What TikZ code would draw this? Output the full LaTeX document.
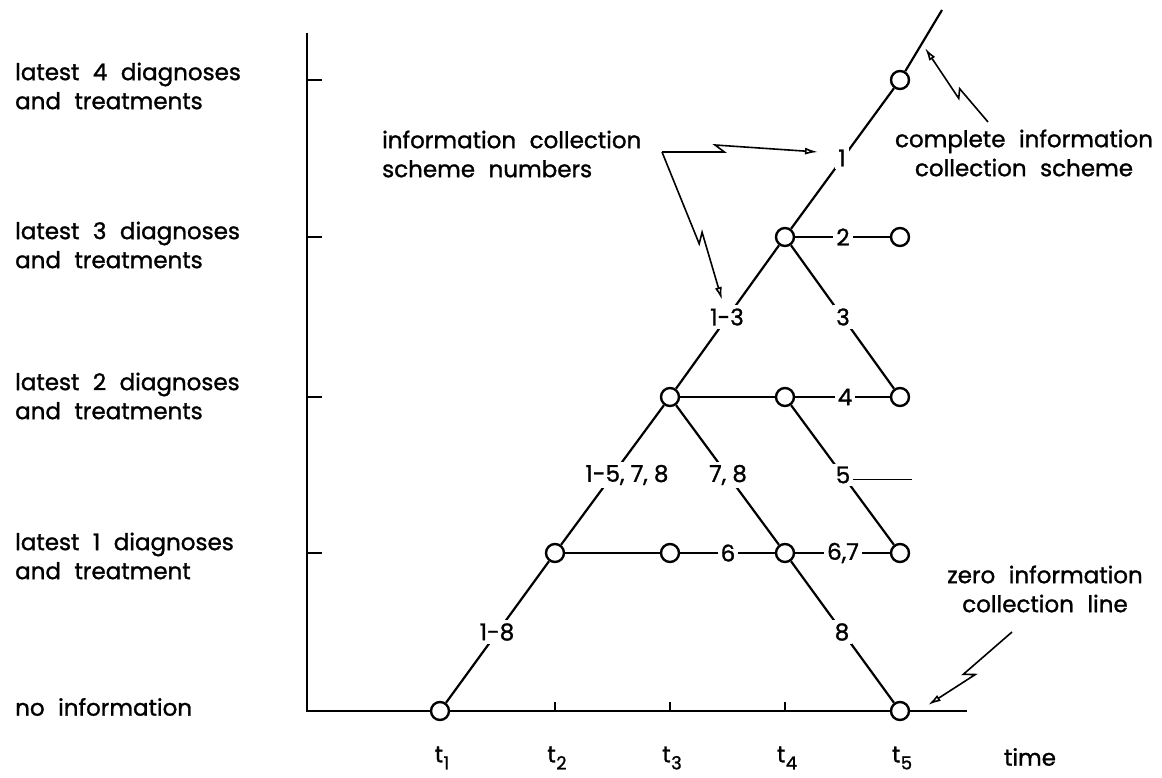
\documentclass[tikz,border=0pt]{standalone}
\usepackage{fontspec}
\setmainfont{Poppins}[WordSpace=2.2,FakeBold=1.2]
\newfontfamily\labfont{Poppins}[FakeBold=1.2]
\usetikzlibrary{arrows.meta,calc}
\newcommand\tlab[1]{t\kern0.5pt\raisebox{-7pt}{\fontsize{18}{18}\selectfont #1}}
\begin{document}
\begin{tikzpicture}[x=1pt,y=-1pt,
  dot/.style={circle,draw,line width=2.4pt,minimum size=18pt,inner sep=0pt,fill=white},
  conn/.style={line width=2.2pt},
  axis/.style={line width=2.6pt},
  lab/.style={fill=white,inner sep=3pt,font=\labfont\fontsize{23}{23}\selectfont},
  txt/.style={inner sep=0pt,font=\fontsize{23}{29}\selectfont,align=left},
  bolt/.style={line width=1.6pt,-{Latex[open,length=13pt,width=7pt]}}]
\useasboundingbox (0,0) rectangle (1162,778);

% circle nodes
\node[dot] (a0) at (440,711) {};
\node[dot] (e0) at (900,711) {};
\node[dot] (b1) at (555,553) {};
\node[dot] (c1) at (670,553) {};
\node[dot] (d1) at (785,553) {};
\node[dot] (e1) at (900,553) {};
\node[dot] (c2) at (670,397) {};
\node[dot] (d2) at (785,397) {};
\node[dot] (e2) at (900,397) {};
\node[dot] (d3) at (785,237) {};
\node[dot] (e3) at (900,237) {};
\node[dot] (e4) at (900,80) {};

% axes
\coordinate (O) at (307,711);
\coordinate (ytop) at (307,33);
\coordinate (xend) at (967,711);
\coordinate (topend) at (942,10);
\draw[axis] (ytop) -- (O) -- (a0);
\draw[axis] (a0) -- (e0);
\draw[axis] (e0) -- (xend);
\foreach \yy in {80,237,397,553} \draw[line width=2.2pt] (307,\yy) -- ++(15,0);
\foreach \xx in {555,670,785} \draw[line width=1.6pt] (\xx,711) -- ++(0,-9);

% connectors
\draw[conn] (a0) -- (b1);
\draw[conn] (b1) -- (c2);
\draw[conn] (c2) -- (d3);
\draw[conn] (d3) -- (e4);
\draw[conn] (e4) -- (topend);
\draw[conn] (b1) -- (c1);
\draw[conn] (c1) -- (d1);
\draw[conn] (d1) -- (e1);
\draw[conn] (c2) -- (d2);
\draw[conn] (d2) -- (e2);
\draw[conn] (d3) -- (e3);
\draw[conn] (c2) -- (d1);
\draw[conn] (d1) -- (e0);
\draw[conn] (d2) -- (e1);
\draw[conn] (d3) -- (e2);

% labels on connectors
\node[lab] (l18) at (497,632) {1-8};
\node[lab] (l1578) at (627,475) {1-5, 7, 8};
\node[lab] (l78) at (728,475) {7, 8};
\node[lab] (l5b) at (843,475) {5};
\node[lab] (l13) at (727,317) {1-3};
\node[lab] (l3) at (843,317) {3};
\node[lab] (l1) at (842,158) {1};
\node[lab] (l2) at (843,237) {2};
\node[lab] (l4) at (845,397) {4};
\node[lab] (l6) at (728,553) {6};
\node[lab] (l67) at (843,553) {6,7};
\node[lab] (l8) at (842,632) {8};
\coordinate (dashend) at (912,479);
\draw[line width=1pt] (l5b.east |- dashend) -- (dashend);

% left labels
\node[txt,anchor=west] (lv4) at (15,86) {latest 4 diagnoses\\and treatments};
\node[txt,anchor=west] (lv3) at (15,245) {latest 3 diagnoses\\and treatments};
\node[txt,anchor=west] (lv2) at (15,396) {latest 2 diagnoses\\and treatments};
\node[txt,anchor=west] (lv1) at (15,556) {latest 1 diagnoses\\and treatment};
\node[txt,anchor=west] (lv0) at (15,707) {no information};

% annotations
\node[txt,anchor=west] (icsn) at (382,154) {information collection\\scheme numbers};
\node[txt,align=center] (cics) at (1024,153) {complete information\\collection scheme};
\node[txt,align=center] (zicl) at (1045,589) {zero information\\collection line};

% time labels
\node[txt] (t1) at (442,758) {\tlab{1}};
\node[txt] (t2) at (557,758) {\tlab{2}};
\node[txt] (t3) at (672,758) {\tlab{3}};
\node[txt] (t4) at (787,758) {\tlab{4}};
\node[txt] (t5) at (902,758) {\tlab{5}};
\node[txt] (time) at (1030,757) {time};

% lightning arrows
\coordinate (src) at (662,152);
\coordinate (tip1) at (818,152);
\coordinate (tip2) at (722,300);
\coordinate (csrc) at (988,122);
\coordinate (ctip) at (925,48);
\coordinate (zsrc) at (1012,632);
\coordinate (ztip) at (928,705);
\draw[bolt] (src) -- ($(src)!0.40!(tip1)$) -- ($(src)!0.34!(tip1)!7pt!90:(tip1)$) -- (tip1);
\draw[bolt] (src) -- ($(src)!0.62!(tip2)$) -- ($(src)!0.56!(tip2)!7pt!90:(tip2)$) -- (tip2);
\draw[bolt] (csrc) -- ($(csrc)!0.45!(ctip)$) -- ($(csrc)!0.38!(ctip)!7pt!90:(ctip)$) -- (ctip);
\draw[bolt] (zsrc) -- ($(zsrc)!0.58!(ztip)$) -- ($(zsrc)!0.50!(ztip)!8pt!90:(ztip)$) -- (ztip);
\end{tikzpicture}
\end{document}
